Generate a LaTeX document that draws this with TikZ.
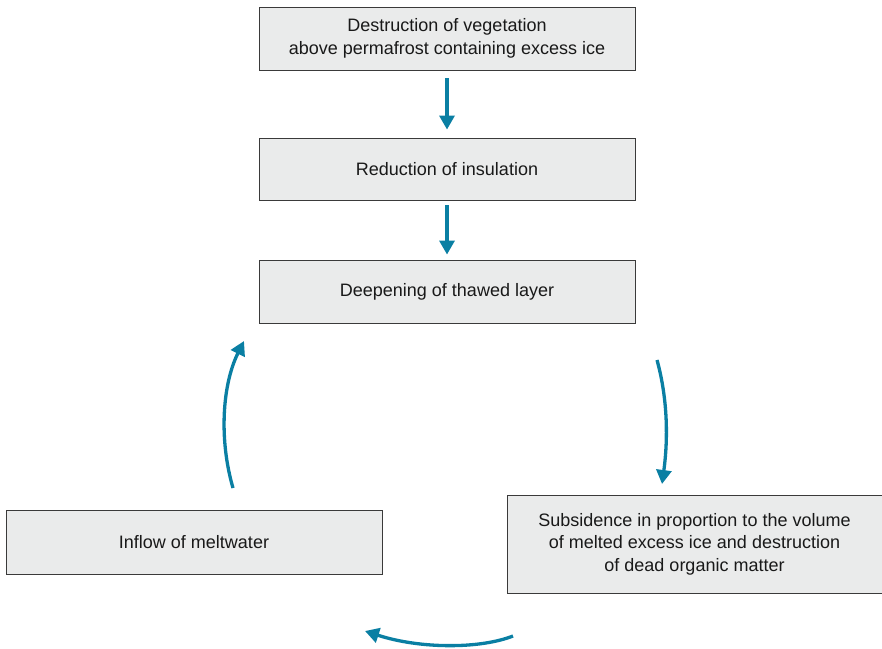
\documentclass[tikz,border=0pt]{standalone}
\usepackage{fontspec}
\setmainfont{Liberation Sans}
\usetikzlibrary{arrows.meta,calc}
\definecolor{teal}{HTML}{0A7FA3}
\definecolor{boxfill}{HTML}{EAEBEB}
\definecolor{boxline}{HTML}{3A3A3A}
\begin{document}
\begin{tikzpicture}[x=1pt,y=-1pt,
  box/.style={draw=boxline,line width=0.9pt,fill=boxfill,rectangle,inner sep=0pt,
    align=center,font=\fontsize{18}{22.5}\selectfont,text=black!90},
  arr/.style={draw=teal,line width=3.3pt,-{Triangle[length=14pt,width=15pt]}}]
\useasboundingbox (0,0) rectangle (882,648);
\node[box,minimum width=376pt,minimum height=63pt] (b1) at (447,38.5) {Destruction of vegetation\\above permafrost containing excess ice};
\node[box,minimum width=376pt,minimum height=62pt] (b2) at (447,169) {Reduction of insulation};
\node[box,minimum width=376pt,minimum height=63pt] (b3) at (447,291.5) {Deepening of thawed layer};
\node[box,minimum width=376pt,minimum height=64pt] (b4) at (194,542) {Inflow of meltwater};
\node[box,minimum width=375pt,minimum height=98pt] (b5) at (694.5,544) {Subsidence in proportion to the volume\\of melted excess ice and destruction\\of dead organic matter};
\draw[arr,shorten <=8pt,shorten >=8pt] (b1.south) -- (b2.north);
\draw[arr,shorten <=5pt,shorten >=5pt] (b2.south) -- (b3.north);
\coordinate (r1) at (657,360);
\coordinate (r2) at (662,484);
\coordinate (m1) at (513,636);
\coordinate (m2) at (365,631);
\coordinate (l1) at (233,488);
\coordinate (l2) at (244,341);
\draw[arr] (r1) .. controls (668,400) and (668,440) .. (r2);
\draw[arr] (m1) .. controls (480,649) and (420,649) .. (m2);
\draw[arr] (l1) .. controls (219,440) and (222,385) .. (l2);
\end{tikzpicture}
\end{document}
